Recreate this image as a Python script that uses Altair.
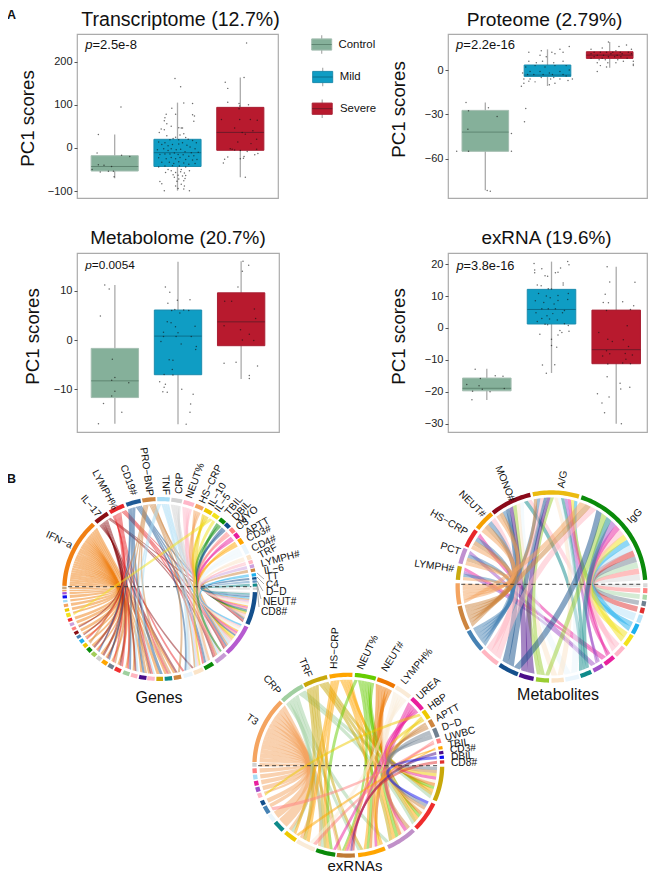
import math
import altair as alt
import pandas as pd

FONT = "Liberation Sans"
COL_BOX = ["#85B09A", "#0F9DC4", "#B81A2E"]
COL_EDGE = ["#A3BDB0", "#1C8CAE", "#A81F33"]
COL_MED = ["#5F8672", "#0B6F8C", "#6E1A28"]
groups = ["Control", "Mild", "Severe"]

# ---------- box statistics: (q1, median, q3, whisker low, whisker high)
tr_box = [(-53.5, -43, -18, -70, 31), (-43, -11, 20, -99, 105), (-5.5, 36, 94, -68, 163)]
pr_box = [(-55, -42, -27.3, -81.4, -22), (-4.3, -3.4, 3.4, -10.8, 14), (7.9, 10.1, 12.4, 1.6, 19)]
me_box = [(-11.7, -8.3, -1.7, -17, 11.2), (-7.05, 0.8, 6.1, -17.1, 15.9), (-1.15, 3.7, 9.6, -7.9, 16)]
ex_box = [(-19.7, -18.9, -15.7, -22.6, -12.8), (1.25, 5.8, 12.1, -14.1, 20.8), (-11.2, -6.8, 5.6, -30, 19.2)]

# ---------- jittered points (offset from group centre, value)
tr_pts = [
 [(-.26,31),(.1,95),(.24,-20),(.11,-17),(-.28,-12),(-.26,-39),(-.17,-40),(-.1,-54),(-.23,-56),(-.36,-50),(-.02,-54),(-.01,-67),(-.05,-43)],
 [(-.04,161),(.05,142),(.24,103),(.1,104),(-.09,92),(-.03,78),(-.18,78),(-.2,70),(.24,77),(.27,74),(.26,62),(-.17,56),(-.21,63),(.08,46),(.02,47),(.06,46),(-.26,44),(-.21,42),(-.29,36),(-.17,28),(-.1,50),(.1,33),(-.03,25),(.04,30),(.13,24),(.17,20),(-.07,22),(.24,17),(.3,12),(-.12,19),(.02,19),(-.3,14),(-.25,8),(-.2,12),(-.15,5),(-.08,8),(.02,9),(.08,12),(.15,6),(.2,2),(.28,-2),(-.32,-4),(-.22,-2),(-.15,-6),(-.1,-2),(-.02,-4),(.05,-3),(.12,-9),(.22,-11),(.33,-10),(-.28,-15),(-.2,-14),(-.12,-14),(-.05,-12),(.01,-15),(.09,-16),(.18,-19),(.26,-18),(-.3,-23),(-.18,-25),(-.1,-22),(-.03,-25),(.04,-22),(.13,-27),(.24,-28),(.31,-27),(-.25,-33),(-.13,-33),(-.06,-36),(.02,-32),(.1,-35),(.18,-38),(.28,-36),(-.2,-42),(-.08,-41),(.03,-42),(.13,-44),(-.3,-44),(-.15,-50),(.06,-50),(-.1,-53),(-.03,-57),(.05,-55),(.11,-58),(.19,-53),(-.19,-57),(-.07,-62),(.01,-63),(.08,-65),(.13,-64),(-.05,-68),(.02,-72),(.12,-71),(-.01,-77),(.1,-76),(.06,-84),(-.03,-88),(.11,-88),(-.28,-78),(-.25,-83),(-.21,-99),(.19,-99),(.1,-95),(.01,-94)],
 [(-.24,152),(-.2,138),(.06,163),(-.2,106),(-.02,103),(-.01,97),(.13,100),(-.02,91),(-.3,66),(-.01,66),(.16,66),(.27,64),(.2,40),(-.09,46),(.03,36),(.08,32),(.26,20),(-.04,14),(.17,10),(.26,-3),(-.13,-3),(-.09,-5),(0,-6),(.11,-8),(.28,-13),(.23,-16),(.05,-24),(.0,-25),(-.2,-21),(-.25,-26),(-.27,-35),(-.16,-2),(.1,243),(.08,-68),(.06,-20)],
]
pr_pts = [
 [(-.31,-22),(.03,-81.5),(.08,-82),(-.27,-27.5),(.05,-25.5),(.19,-31.5),(-.28,-40),(.42,-43),(-.46,-55),(-.27,-55),(.42,-55)],
 [(-.37,-35),(-.35,-26),(.2,14),(.25,12),(.35,16),(.07,12),(-.3,12),(-.1,13),(-.12,10),(-.02,9),(.12,11),(-.3,6),(-.18,5),(-.08,6),(.1,5),(.25,6),(-.35,2),(-.2,3),(-.04,2),(.12,3),(.3,3),(-.4,-2),(-.28,-1),(-.12,-1),(.03,-2),(.2,-1),(.35,0),(-.32,-3),(-.22,-3),(-.07,-3),(.08,-3),(.25,-3),(.3,-4),(-.1,-5),(.1,-5),(-.38,-6),(-.28,-6),(.05,-6),(.2,-6),(.33,-7),(.4,-6),(-.38,-9),(-.2,-8),(-.3,-7.5),(.12,-9),(-.42,-11),(.03,-10)],
 [(-.3,14),(-.12,15),(.15,16),(.27,17),(.35,14),(-.02,19),(.1,13),(-.25,12),(-.15,12),(-.05,12),(.05,12),(.17,12),(.3,12),(-.3,11),(-.2,10),(-.1,10),(.02,11),(.12,10),(.2,11),(.35,11),(-.25,9),(-.12,8),(-.02,9),(.08,9),(.18,9),(.28,8),(-.3,8),(-.17,7),(-.07,7),(.13,7),(.22,6),(.38,6),(-.2,5),(-.03,5),(.1,5),(.38,4),(-.05,2),(-.15,3),(.38,3),(-.2,-1)],
]
me_pts = [
 [(-.16,11.2),(-.09,10.4),(-.23,4.9),(-.04,-3.9),(.0,-7.6),(-.05,-8.2),(.22,-8.7),(0,-10.4),(-.05,-11.4),(-.18,-12.9),(.11,-14.7),(-.26,-17)],
 [(-.2,10.8),(-.13,9.7),(-.16,7.5),(-.01,8.1),(.19,8.2),(-.1,6),(-.05,6.2),(.09,6.1),(.17,6),(-.17,3.7),(.03,5.5),(-.11,3.5),(.27,2.8),(-.04,2.7),(-.23,1.6),(0,1.5),(-.23,.7),(-.03,.7),(.21,.7),(-.27,-.3),(.05,-.8),(.29,-1.3),(.28,-1.9),(-.14,-4),(-.08,-4.1),(-.09,-6),(-.22,-7),(-.08,-7.1),(-.29,-8.5),(-.2,-9),(-.22,-9.6),(-.24,-10.5),(-.17,-10.6),(.06,-10),(.24,-11),(.2,-13),(.19,-14.7),(.13,-17.1)],
 [(.03,16),(.02,14),(.12,15.2),(-.05,10.8),(-.26,7.9),(-.15,7.9),(.21,6.3),(.23,4.4),(-.27,2.9),(-.01,2.1),(.13,1.2),(.02,0),(.2,-.1),(-.27,-4.7),(-.08,-4.5),(.26,-5.3),(.13,-7.8),(.13,-7.2)],
]
ex_pts = [
 [(-.18,-12.9),(.13,-15),(.25,-15.1),(-.31,-17.7),(-.1,-15.8),(-.12,-18.1),(-.22,-19.8),(-.07,-19.2),(.05,-20),(.27,-19),(-.23,-22.5)],
 [(-.27,20.2),(.25,20.8),(.27,19.8),(-.26,18.2),(-.26,17.3),(-.15,18.6),(.14,18.8),(.1,17.5),(.06,17.3),(-.1,16.4),(-.06,16.2),(.18,14.1),(-.22,13.5),(-.16,13.2),(.18,13.5),(-.05,12.3),(0,12.2),(-.2,10.8),(-.08,10),(.1,10.2),(.26,10.8),(-.02,9.5),(-.25,8.5),(.1,8.6),(.25,8.9),(-.12,8),(.04,7.5),(-.15,6),(-.05,6),(.06,6),(.2,5.5),(-.24,4.8),(-.07,3.8),(.02,4.5),(.17,4.8),(-.15,3),(-.03,2.8),(-.22,2),(.09,2.5),(.2,1.3),(-.1,1.2),(-.06,1),(.26,.8),(.13,-.8),(.27,-1),(.16,-1.4),(-.18,-2),(.1,-2.2),(0,-3.5),(0,-5.5),(.08,-6),(-.14,-11.6),(.05,-11.5),(-.08,-14.2)],
 [(-.14,19.2),(-.1,14.4),(.29,14.3),(-.17,10.6),(-.2,8),(-.12,7.9),(.1,8.2),(.27,7),(-.15,5.5),(.22,5.8),(.17,.7),(-.27,-1.4),(-.13,-3.5),(-.06,-4.2),(.11,-3.7),(-.15,-7.1),(.19,-5.8),(-.21,-8.8),(-.1,-8.1),(.14,-8),(.25,-8.5),(.15,-9.8),(.22,-11.2),(-.13,-11.3),(.1,-11),(-.14,-15.3),(.06,-17.3),(.21,-18.6),(-.29,-20.6),(-.11,-21.6),(-.22,-23.5),(-.18,-26.6),(.07,-19.1),(.08,-30)],
]

panels = {
 "tr": dict(title="Transcriptome (12.7%)", box=tr_box, pts=tr_pts, dom=[-116, 264], ticks=[-100, 0, 100, 200], p="=2.5e-8", pv=238, fs=13),
 "pr": dict(title="Proteome (2.79%)", box=pr_box, pts=pr_pts, dom=[-86.6, 24.4], ticks=[-60, -30, 0], p="=2.2e-16", pv=17.2, fs=13),
 "me": dict(title="Metabolome (20.7%)", box=me_box, pts=me_pts, dom=[-18.7, 17.7], ticks=[-10, 0, 10], p="=0.0054", pv=15.2, fs=11.8),
 "ex": dict(title="exRNA (19.6%)", box=ex_box, pts=ex_pts, dom=[-32.6, 23.5], ticks=[-30, -20, -10, 0, 10, 20], p="=3.8e-16", pv=19.3, fs=12.8),
}
layout = {
 "tr": dict(w=201, h=164, xmax=3.6, tfs=19.6, tdx=3, off=8.5, tx=-40, ty=84),
 "pr": dict(w=199, h=164, xmax=3.6, tfs=19.2, tdx=-3, off=8.5, tx=-40, ty=75),
 "me": dict(w=202, h=179, xmax=3.6, tfs=18.9, tdx=0, off=9, tx=-35, ty=83),
 "ex": dict(w=199, h=179, xmax=3.476, tfs=18.9, tdx=-1, off=9, tx=-40, ty=83),
}

def panel(key):
    d, L = panels[key], layout[key]
    box = pd.DataFrame([{"g": i + 1, "x0": i + 1 - .375, "x1": i + 1 + .375, "q1": b[0], "med": b[1], "q3": b[2],
                         "lo": b[3], "hi": b[4], "fill": COL_BOX[i], "edge": COL_EDGE[i], "mc": COL_MED[i]} for i, b in enumerate(d["box"])])
    pts = pd.DataFrame([{"x": i + 1 + p[0], "y": p[1]} for i, g in enumerate(d["pts"]) for p in g])
    xs = alt.Scale(domain=[.4, L["xmax"]], nice=False, zero=False)
    ys = alt.Scale(domain=d["dom"], nice=False, zero=False)
    yaxis = alt.Axis(values=d["ticks"], title="PC1 scores", grid=False, domain=False, tickSize=3, tickColor="#555",
                     labelFont=FONT, labelFontSize=11, labelColor="#222", labelPadding=2, titleFont=FONT, titleFontSize=18.7,
                     titleFontWeight="normal", titleColor="#111", titleX=L["tx"], titleY=L["ty"], titleAnchor="middle")
    X = lambda f: alt.X(f, type="quantitative", scale=xs, axis=None)
    Y = lambda f: alt.Y(f, type="quantitative", scale=ys, axis=yaxis)
    whisk = alt.Chart(box).mark_rule(color="#ababab", strokeWidth=1.3).encode(x=X("g"), y=Y("lo"), y2="hi")
    rect = alt.Chart(box).mark_rect(strokeWidth=1).encode(
        x=X("x0"), x2="x1", y=Y("q1"), y2="q3", fill=alt.Fill("fill:N", scale=None), stroke=alt.Stroke("edge:N", scale=None))
    med = alt.Chart(box).mark_rule(strokeWidth=1).encode(
        x=X("x0"), x2="x1", y=Y("med"), color=alt.Color("mc:N", scale=None))
    dots = alt.Chart(pts).mark_circle(size=2.2, color="#111", opacity=.62).encode(x=X("x"), y=Y("y"))
    ptab = pd.DataFrame({"x": [.53], "y": [d["pv"]], "s": ["p"], "t": [d["p"]]})
    pl = alt.Chart(ptab).mark_text(font=FONT, fontSize=d["fs"], fontStyle="italic", align="left", color="#111").encode(
        x=X("x"), y=Y("y"), text="s:N")
    pr = alt.Chart(ptab).mark_text(font=FONT, fontSize=d["fs"], align="left", dx=d["fs"] * .56, color="#111").encode(
        x=X("x"), y=Y("y"), text="t:N")
    span = d["dom"][1] - d["dom"][0]
    xspan = L["xmax"] - .4
    ttab = pd.DataFrame({"x": [.4 + xspan * (.5 + L["tdx"] / L["w"])], "y": [d["dom"][1] + L["off"] * span / L["h"]], "t": [d["title"]]})
    ttl = alt.Chart(ttab).mark_text(font=FONT, fontSize=L["tfs"], align="center", baseline="alphabetic", color="#111").encode(
        x=X("x"), y=Y("y"), text="t:N")
    return alt.layer(whisk, rect, med, dots, pl, pr, ttl).properties(width=L["w"], height=L["h"])

# ---------- legend panel, page-pixel style scale
leg_names = groups
leg_x = [322.7, 323.7, 323.2]
leg_y = [43.5, 76, 107.7]
leg_tx = [339.5, 340.7, 341]
def legend_panel():
    W, H = 169, 164
    xs = alt.Scale(domain=[280, 449], nice=False, zero=False)
    ys = alt.Scale(domain=[197, 33], nice=False, zero=False)
    t = pd.DataFrame([{"n": n, "x": x, "x0": x - 10, "x1": x + 10, "y0": y - 5.6, "y1": y + 5.6, "w0": y - 9.2, "w1": y + 9.2, "y": y,
                       "tx": tx, "f": COL_BOX[i], "e": COL_EDGE[i], "m": COL_MED[i]}
                      for i, (n, x, y, tx) in enumerate(zip(leg_names, leg_x, leg_y, leg_tx))])
    X = lambda f: alt.X(f, type="quantitative", scale=xs, axis=None)
    Y = lambda f: alt.Y(f, type="quantitative", scale=ys, axis=None)
    a = alt.Chart(t).mark_rule(color="#ababab", strokeWidth=1.2).encode(x=X("x"), y=Y("w0"), y2="w1")
    b = alt.Chart(t).mark_rect().encode(x=X("x0"), x2="x1", y=Y("y0"), y2="y1", fill=alt.Fill("f:N", scale=None), stroke=alt.Stroke("e:N", scale=None))
    c = alt.Chart(t).mark_rule(strokeWidth=1).encode(x=X("x0"), x2="x1", y=Y("y"), color=alt.Color("m:N", scale=None))
    d = alt.Chart(t).mark_text(font=FONT, fontSize=11.4, align="left", color="#111").encode(x=X("tx"), y=Y("y"), text="n:N")
    return alt.layer(a, b, c, d).properties(width=W, height=H, view=alt.ViewBackground(stroke="transparent"))

# ---------- chord diagrams: sectors as (start, end clock degrees, colour)
g_top = [(-88,-44,"#F07F13"),(-42,-33,"#8B0F14"),(-31.5,-22,"#E8262A"),(-20.5,-11.5,"#1F5A96"),(-10.5,-2.5,"#CD853F"),(-1.5,6,"#A6DCF5"),
         (7,13.5,"#D2D2D2"),(14.5,21,"#FFB6C8"),(22,27,"#F4A460"),(28,33,"#EEC900"),(33.8,38,"#F2E21C"),(39,43,"#0A8A0A"),(43.5,47,"#104E8B"),
         (47.8,51.3,"#FF7F7F"),(52,55.5,"#E9209E"),(56.2,60,"#FFA500"),(60.8,67,"#EAF5FC"),(68,71,"#FBE4C8"),(71.5,73.8,"#FFB6C1"),(74.3,76.5,"#CDA0DD"),
         (77,79,"#CD853F"),(80,82,"#1EB0EE"),(82.5,84,"#104E8B"),(84.5,86,"#5A8FC0"),(86.5,88.5,"#0F8A8A"),(89,90.5,"#D0D0D0")]
g_bot = [(92,113,"#144F8C"),(114.5,135,"#B65BD0"),(136.5,144,"#C79BD5"),(146,152,"#0A8A0A"),(153,159,"#FBE4C8"),(160,165.5,"#EAF5FC"),(167,171.5,"#CD853F"),
         (172.5,177,"#0F8A8A"),(178,182,"#CDA80A"),(183,187.5,"#FFB6C8"),(188,192.5,"#4B0D8A"),(193.5,197.5,"#FFB6C1"),(198.5,202.5,"#9FD09F"),(204,208,"#F03030"),
         (209,212.5,"#708090"),(213.5,217,"#FFA500"),(218,221,"#D0D0D0"),(222,225,"#A2CD5A"),(226,229,"#0A8A0A"),(230,232.5,"#EEC900"),(233.5,236,"#1EB0EE"),
         (237,239,"#4682B4"),(240,242,"#8B0F14"),(243,245,"#FF7F7F"),(246,248,"#CDA0DD"),(249,251,"#F03030"),(252,254.5,"#F2E21C"),(255.5,257.5,"#EEC900"),
         (258.5,260.5,"#F4A460"),(261.5,263,"#A6DCF5"),(264,266,"#1010F0"),(266.5,268,"#A050D8"),(268.5,269.5,"#F4A460"),(270,271.5,"#C8A880")]
g_links = [
 [33,32,31,30,29,28,27,26,25,24,23,22,21,20,19,18,17,16,15,14,13,12,11,10,9,8,7,6],
 [0,1,2,4,6,9,11,13,15,16,18,21,23],
 [0,1,2,3,5,7,9,12,13,14,17,20],
 [0,1,3,5,8,10,12,15,17],
 [0,1,2,4,6,7,10,14,19],
 [1,2,4,5,9,11],
 [0,1,3,5],[0,1,2,4],[0,1,3],[0,1,4],[1,26],[0,2],[0,1],[0,1],[0,1],[0,1],[1,0],[0,1],[0,1],[0],[0],[0,1],[0],[0],[0],[0]]

m_top = [(-86,-77.6,"#C9A90F"),(-76,-66.2,"#C090D0"),(-65,-53.4,"#E8262A"),(-52,-39.5,"#F5A000"),(-38.5,-13,"#8B0A1A"),(-11.5,17,"#EBBB10"),(18.5,86,"#0A8A0A")]
m_bot = [(88,90.5,"#D8D8D8"),(91,94,"#FF7F7F"),(95,98,"#A9D8A9"),(99,102,"#708090"),(103,106.5,"#E03030"),(107.5,112.5,"#B5E2F8"),(113.5,120,"#1EB0EE"),
         (121,128.5,"#F2E21C"),(130,137,"#FFB6C8"),(138.5,145.5,"#E9209E"),(147,153.5,"#A050C8"),(155,162,"#0F8A8A"),(163,171.5,"#EAF5FC"),(172.5,180,"#FBE4C8"),
         (181.5,189.5,"#9ACD32"),(191,200,"#4B0D8A"),(201,213.5,"#144F8C"),(215,227,"#FFB6C1"),(228,242,"#4682B4"),(243,258,"#CD853F"),(259,272,"#F4A460")]
m_links = [[6],[6],[6],[6],[6],[6],[5,6],[5,6],[4,6],[0,2,5,6],[0,1,5,6],[4,5,6],[4,5],[4,5],[4,5,6],[4,5],[4,5,6],[3,5,6],[0,1,2,3,4,5],[1,2,3,4,5,6],[0,1,2,3,4,6]]

x_top = [(-88,-45.6,"#F4A460"),(-44.5,-29,"#A0CFA0"),(-28,-13,"#C8A80A"),(-11.5,2.5,"#FFA500"),(4,17,"#66CC00"),(18,29.5,"#EE7600"),(30.5,41,"#FAEBD7"),(42.5,52,"#E91E9C"),
         (53,59,"#EEC900"),(60,65,"#CD853F"),(66,72,"#708090"),(73,76,"#FF7F7F"),(78,80,"#FFA500"),(81,83,"#4B0D8A"),(84,86,"#1010F0"),(87,89,"#E03030")]
x_bot = [(91,113,"#C8A80A"),(115,134,"#EE2C2C"),(136,155,"#C090C8"),(157,174,"#FFA500"),(176,187,"#C07A35"),(188,200,"#0A8A0A"),(201,213,"#FAEBD7"),(214,222,"#EEC900"),
         (224,231,"#0F8A8A"),(232,237,"#EAF5FC"),(238,243,"#4682B4"),(244,247,"#144F8C"),(249,252,"#FFB6C1"),(253,256,"#A050C8"),(257,260,"#E9209E"),(261,264,"#A6DCF5"),
         (265,268,"#FF7F7F"),(269,271.5,"#D0D0D0")]
x_links = [[17,16,15,14,13,12,11,10,9,8,7,6,5,4],[0,1,2,3,5,7],[0,1,2,3,4,5,6],[0,1,2,3,5,6,7],[0,1,2,3,4,5],[0,1,2,3,4],[0,1,2,3,6],[0,2,3,4,5],[0,3,12],[0,1,2],[0,1],[4,6,10],[3,7],[4],[1],[4]]

g_geo = (160.7, 588, 97.5, 92)
m_geo = (552.5, 585.5, 96, 96.2)
x_geo = (349.3, 764.2, 96, 92.5)
g_dash = 585.7
m_dash = 583.3
x_dash = 764.7

def P(geo, deg, rad):
    t = math.radians(deg)
    return [geo[0] + geo[2] * rad * math.sin(t), geo[1] - geo[3] * rad * math.cos(t)]
def arc(geo, a, b, rad):
    n = max(2, int(abs(b - a) / 1.5) + 1)
    return [P(geo, a + (b - a) * i / n, rad) for i in range(n + 1)]
def sep(a, b):
    s = abs(b - a)
    return min(s, 360 - s)
def apex_radius(s):
    return .47 - .07 * s / 120 if s < 120 else .40 - .22 * (s - 120) / 60
def edge(geo, a, b, am, bm, rad, delta, rev=False):
    """Quadratic ribbon edge between ring angles a and b, whose apex lies on the bisector of the ribbon."""
    dm = bm - am
    bis = (am + bm) / 2 + (180 if dm > 180 else 0)
    A, B = P(geo, a, rad), P(geo, b, rad)
    H = P(geo, bis, rad * (apex_radius(sep(am, bm)) + delta))
    c = [2 * H[0] - (A[0] + B[0]) / 2, 2 * H[1] - (A[1] + B[1]) / 2]
    p0, p1 = (B, A) if rev else (A, B)
    out = []
    for i in range(1, 24):
        t = i / 24
        out.append([(1 - t) ** 2 * p0[0] + 2 * t * (1 - t) * c[0] + t * t * p1[0],
                    (1 - t) ** 2 * p0[1] + 2 * t * (1 - t) * c[1] + t * t * p1[1]])
    return out
def feat(ring, c, o):
    return {"type": "Feature", "geometry": {"type": "Polygon", "coordinates": [ring + [ring[0]]]}, "properties": {"c": c, "o": o}}
def mid(s):
    return (s[0] + s[1]) / 2
def slices(s, k, gap=.05):
    w = (s[1] - s[0]) / k
    return [(s[0] + i * w + (gap / 2 if k > 1 else 0), s[0] + (i + 1) * w - (gap / 2 if k > 1 else 0)) for i in range(k)]

def chord_features(geo, tops, bots, links, by="top", op=.5, inner=.925):
    if by == "top":
        pairs = [(i, j) for i, l in enumerate(links) for j in l]
    else:
        pairs = [(i, j) for j, l in enumerate(links) for i in l]
    tslice, bslice = {}, {}
    for i, s in enumerate(tops):
        mine = sorted([p for p in pairs if p[0] == i], key=lambda p: -mid(bots[p[1]]))
        for p, sl in zip(mine, slices(s, len(mine))):
            tslice[p] = sl
    for j, s in enumerate(bots):
        mine = sorted([p for p in pairs if p[1] == j], key=lambda p: -mid(tops[p[0]]))
        for p, sl in zip(mine, slices(s, len(mine))):
            bslice[p] = sl
    rib, ring = [], []
    for p in pairs:
        a, b = tslice[p], bslice[p]
        am, bm = mid(a), mid(b)
        w = ((a[1] - a[0]) + (b[1] - b[0])) / 2 * math.pi / 180 * .45
        near = 1 if sep(a[1], b[0]) <= sep(a[0], b[1]) else -1
        poly = (arc(geo, a[0], a[1], inner) + edge(geo, a[1], b[0], am, bm, inner, near * w)
                + arc(geo, b[0], b[1], inner) + edge(geo, a[0], b[1], am, bm, inner, -near * w, rev=True))
        rib.append(feat(poly, tops[p[0]][2] if by == "top" else bots[p[1]][2], op))
    for s in tops + bots:
        ring.append(feat(arc(geo, s[0], s[1], 1.0) + arc(geo, s[1], s[0], .955), s[2], 1))
    return rib, ring

rib1, ring1 = chord_features(g_geo, g_top, g_bot, g_links, "top")
rib2, ring2 = chord_features(m_geo, m_top, m_bot, m_links, "bottom")
rib3, ring3 = chord_features(x_geo, x_top, x_bot, x_links, "top")

def line(pts):
    return {"type": "Feature", "geometry": {"type": "LineString", "coordinates": pts}, "properties": {}}
dashes = [line([[g_geo[0] - g_geo[2] * .94, g_dash], [g_geo[0] + g_geo[2] * .94, g_dash]]),
          line([[m_geo[0] - m_geo[2] * .94, m_dash], [m_geo[0] + m_geo[2] * .94, m_dash]]),
          line([[x_geo[0] - x_geo[2] * .94, x_dash], [x_geo[0] + x_geo[2] * .94, x_dash]])]
leaders = [line([[258, 572], [265, 578]]), line([[258, 576], [265, 583]]), line([[258, 580], [264, 590]]), line([[258, 583], [262, 598]]), line([[258, 585], [260, 606]])]

# label, anchor x, anchor y, rotation
right_labels = [("CRP",180,493,-88),("NEUT%",190,497,-70),("HS−CRP",203,502,-65),("IL−10",212,505,-60),("IL−5",218,510,-55),("TBIL",228,513,-50),("DBIL",235,518,-48),
  ("MYO",240,522,-40),("C3",238,527,-35),("APTT",247,532,-30),("CD3#",248,538,-25),("CD4#",253,548,-25),("TRF",260,555,-28),("LYMPH#",262,563,-15),("IL−6",265,570,-10),
  ("TT",267,576,-5),("C4",267,584,-5),("D−D",267,591,0),("NEUT#",264,601,0),("CD8#",262,611,0),
  ("IgG",630,521,-45),
  ("NEUT%",361,668,-65),("NEUT#",385,670,-58),("LYMPH%",404,682,-50),("UREA",419,697,-42),("HBP",430,707,-35),("APTT",437,718,-28),("D−D",443,727,-18),("UWBC",446,737,-15),
  ("TBIL",449,744,-8),("CD3#",451,749,-5),("DBIL",452,756,-3),("CD8#",452,762,0),("HS−CRP",335,668,-88),
  ("A/G",562,487,-80)]
left_labels = [("IFN−a",73,545,25),("IL−17",100,515,50),("LYMPH%",116,508,62),("CD19#",135,494,70),("PRO−BNP",151,495,82),("TNF",167,494,88),
  ("MONO#",513,500,68),("NEUT#",485,515,45),("HS−CRP",468,532,30),("PCT",461,551,18),("LYMPH#",455,568,8),
  ("T3",258,722,35),("CRP",280,692,50),("TRF",310,676,68)]
cap_labels = [("Genes",160,697,16),("Metabolites",559,694,16),("exRNAs",356,865,15)]
panel_tags = [("A",8,14),("B",8,478)]

def chord_panel():
    xs = alt.Scale(domain=[78, 280], nice=False, zero=False)
    ys = alt.Scale(domain=[870, 486], nice=False, zero=False)
    X = alt.X("x:Q", scale=xs, axis=None)
    Y = alt.Y("y:Q", scale=ys, axis=None)
    proj = dict(type="identity", scale=1, translate=[-78, -486])
    def shapes(fs):
        return alt.Chart(alt.Data(values=fs)).mark_geoshape(strokeWidth=0, clip=False).encode(
            color=alt.Color("properties.c:N", scale=None), opacity=alt.Opacity("properties.o:Q", scale=None)).project(**proj)
    s = shapes(rib1 + ring1 + rib2 + ring2 + rib3 + ring3)
    ds = alt.Chart(alt.Data(values=dashes)).mark_geoshape(filled=False, stroke="#333", strokeWidth=.9, strokeDash=[4, 3], clip=False).project(**proj)
    ld = alt.Chart(alt.Data(values=leaders)).mark_geoshape(filled=False, stroke="#777", strokeWidth=.6, clip=False).project(**proj)
    def labs(rows, align):
        t = pd.DataFrame(rows, columns=["t", "x", "y", "a"])
        return alt.Chart(t).mark_text(font=FONT, fontSize=10.2, align=align, baseline="middle", color="#111").encode(
            x=X, y=Y, text="t:N", angle=alt.Angle("a2:Q", scale=None)).transform_calculate(a2="(datum.a+360)%360")
    caps = pd.DataFrame(cap_labels, columns=["t", "x", "y", "s"])
    c = alt.Chart(caps).mark_text(font=FONT, align="center", baseline="middle", color="#111").encode(
        x=X, y=Y, text="t:N", size=alt.Size("s:Q", scale=None))
    tg = pd.DataFrame(panel_tags, columns=["t", "x", "y"])
    tag = alt.Chart(tg).mark_text(font=FONT, fontSize=12.5, fontWeight="bold", align="left", baseline="middle", color="#111").encode(x=X, y=Y, text="t:N")
    return alt.layer(s, ds, ld, labs(right_labels, "left"), labs(left_labels, "right"), c, tag).properties(
        width=202, height=384, view=alt.ViewBackground(stroke="transparent"))

blank = alt.Chart(pd.DataFrame({"v": [0]})).mark_point(opacity=0).encode(x=alt.value(0), y=alt.value(0)).properties(
    width=169, height=179, view=alt.ViewBackground(stroke="transparent"))

chart = alt.concat(panel("tr"), legend_panel(), panel("pr"), panel("me"), blank, panel("ex"), chord_panel(),
                   columns=3, bounds="flush", align="each", spacing={"row": 55, "column": 0}
                   ).properties(padding={"left": -2, "right": 0, "top": 0, "bottom": 0}, background="white").configure_view(stroke="#ABABAB", strokeWidth=1.2)
chart.save("out.html", embed_options={"renderer": "svg", "actions": False})
